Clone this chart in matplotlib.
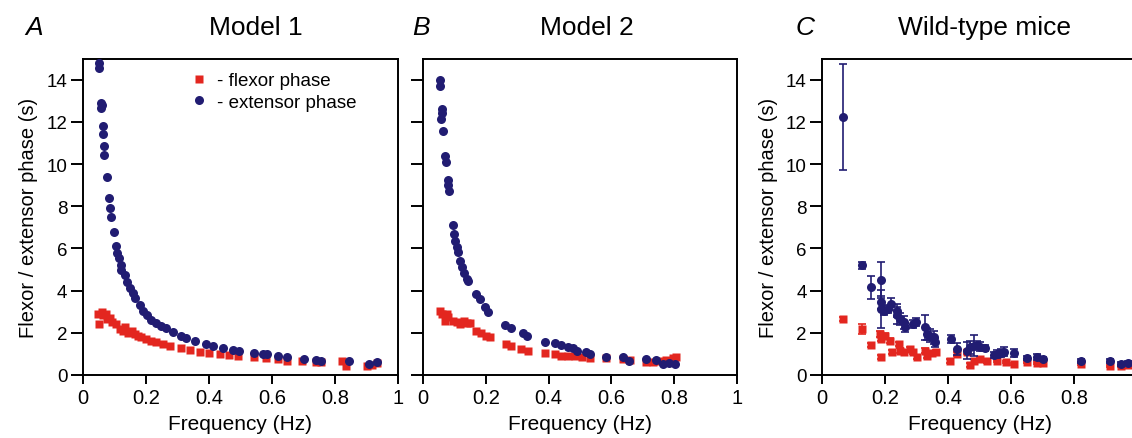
import matplotlib
matplotlib.use("Agg")
import matplotlib.pyplot as plt
import numpy as np

plt.rcParams['font.family'] = ['Liberation Sans', 'DejaVu Sans']

# ---------------- data ----------------
# Panel A (Model 1)
a_ext_f = [0.053, 0.053, 0.058, 0.058, 0.060, 0.063, 0.063, 0.067, 0.068, 0.076, 0.084, 0.087, 0.091,
           0.098, 0.106, 0.109, 0.115, 0.120, 0.123, 0.134, 0.141, 0.149, 0.158, 0.167, 0.181, 0.192,
           0.204, 0.218, 0.234, 0.249, 0.265, 0.286, 0.313, 0.328, 0.355, 0.392, 0.413, 0.444, 0.476,
           0.497, 0.544, 0.571, 0.586, 0.618, 0.649, 0.702, 0.739, 0.755, 0.844, 0.907, 0.934]
a_ext_p = [14.8, 14.55, 12.9, 12.65, 12.8, 11.8, 11.4, 10.85, 10.45, 9.4, 8.4, 7.9, 7.5,
           6.8, 6.1, 5.8, 5.55, 5.2, 5.0, 4.72, 4.40, 4.11, 3.88, 3.64, 3.32, 3.05,
           2.82, 2.63, 2.47, 2.34, 2.22, 2.06, 1.87, 1.77, 1.63, 1.46, 1.39, 1.28, 1.19,
           1.12, 1.03, 1.00, 0.98, 0.89, 0.85, 0.76, 0.73, 0.68, 0.68, 0.52, 0.60]
a_flx_f = [0.049, 0.053, 0.060, 0.065, 0.074, 0.078, 0.086, 0.092, 0.107, 0.118, 0.128, 0.134, 0.144,
           0.155, 0.165, 0.176, 0.186, 0.202, 0.218, 0.234, 0.255, 0.276, 0.313, 0.339, 0.371, 0.402,
           0.434, 0.465, 0.492, 0.544, 0.581, 0.618, 0.649, 0.697, 0.739, 0.755, 0.823, 0.834, 0.902,
           0.918, 0.934]
a_flx_p = [2.90, 2.42, 2.97, 2.82, 2.90, 2.66, 2.69, 2.50, 2.42, 2.18, 2.10, 2.26, 1.99,
           2.10, 1.95, 1.84, 1.79, 1.71, 1.63, 1.55, 1.47, 1.39, 1.28, 1.19, 1.11, 1.04,
           1.00, 0.95, 0.92, 0.84, 0.79, 0.76, 0.68, 0.68, 0.63, 0.60, 0.68, 0.44, 0.41,
           0.47, 0.57]

# Panel B (Model 2)
b_ext_f = [0.053, 0.053, 0.060, 0.060, 0.058, 0.063, 0.071, 0.073, 0.079, 0.079, 0.082, 0.094, 0.099,
           0.103, 0.108, 0.111, 0.119, 0.125, 0.132, 0.140, 0.144, 0.169, 0.182, 0.198, 0.208, 0.261,
           0.279, 0.317, 0.332, 0.388, 0.420, 0.441, 0.462, 0.478, 0.489, 0.519, 0.531, 0.584, 0.637,
           0.656, 0.711, 0.743, 0.764, 0.785, 0.804]
b_ext_p = [14.0, 13.7, 12.6, 12.4, 12.15, 11.55, 10.4, 10.1, 9.25, 9.0, 8.7, 7.09, 6.69,
           6.33, 6.06, 5.85, 5.40, 5.11, 4.84, 4.56, 4.45, 3.84, 3.58, 3.21, 2.97, 2.37,
           2.22, 1.99, 1.87, 1.58, 1.52, 1.42, 1.35, 1.27, 1.16, 1.11, 1.00, 0.84, 0.84,
           0.68, 0.76, 0.73, 0.52, 0.57, 0.52]
b_flx_f = [0.053, 0.060, 0.071, 0.076, 0.079, 0.097, 0.108, 0.119, 0.129, 0.140, 0.150, 0.169, 0.184,
           0.201, 0.212, 0.265, 0.280, 0.311, 0.335, 0.388, 0.420, 0.441, 0.462, 0.484, 0.505, 0.531,
           0.584, 0.637, 0.658, 0.711, 0.732, 0.753, 0.775, 0.796, 0.806]
b_flx_p = [3.05, 2.90, 2.58, 2.90, 2.74, 2.58, 2.50, 2.42, 2.58, 2.47, 2.47, 2.10, 1.99,
           1.87, 1.79, 1.47, 1.39, 1.23, 1.16, 1.03, 1.00, 0.92, 0.92, 0.89, 0.84, 0.79,
           0.79, 0.76, 0.71, 0.63, 0.60, 0.68, 0.73, 0.79, 0.84]

# Panel C (Wild-type mice), mean and error
c_ext_f = [0.067, 0.128, 0.157, 0.187, 0.187, 0.187, 0.197, 0.211, 0.218, 0.237, 0.239, 0.248, 0.259,
           0.264, 0.290, 0.299, 0.328, 0.333, 0.344, 0.354, 0.360, 0.410, 0.429, 0.461, 0.471, 0.482,
           0.493, 0.503, 0.519, 0.546, 0.557, 0.567, 0.578, 0.610, 0.652, 0.684, 0.700, 0.822, 0.913,
           0.950, 0.971]
c_ext_p = [12.23, 5.19, 4.16, 4.52, 3.45, 3.13, 3.05, 3.13, 3.37, 3.05, 2.82, 2.66, 2.50,
           2.26, 2.42, 2.50, 2.26, 1.95, 1.87, 1.79, 1.55, 1.71, 1.23, 1.16, 1.31, 1.39,
           1.42, 1.35, 1.27, 0.95, 1.00, 1.04, 1.11, 1.04, 0.79, 0.84, 0.76, 0.68, 0.68,
           0.52, 0.57]
c_ext_e = [2.53, 0.15, 0.55, 0.85, 0.30, 0.90, 0.20, 0.20, 0.30, 0.30, 0.40, 0.30, 0.30,
           0.20, 0.20, 0.20, 0.60, 0.30, 0.30, 0.30, 0.20, 0.20, 0.30, 0.40, 0.30, 0.50,
           0.20, 0.20, 0.15, 0.15, 0.20, 0.20, 0.20, 0.20, 0.10, 0.15, 0.10, 0.10, 0.10,
           0.10, 0.10]
c_flx_f = [0.067, 0.128, 0.157, 0.184, 0.187, 0.187, 0.200, 0.216, 0.221, 0.243, 0.248, 0.259, 0.280,
           0.290, 0.301, 0.328, 0.333, 0.349, 0.363, 0.407, 0.429, 0.461, 0.470, 0.482, 0.503, 0.524,
           0.556, 0.583, 0.610, 0.652, 0.684, 0.700, 0.822, 0.913, 0.950, 0.971]
c_flx_p = [2.66, 2.18, 1.42, 1.95, 1.71, 0.84, 1.87, 1.63, 1.08, 1.47, 1.16, 1.08, 1.23,
           1.08, 0.84, 1.16, 0.92, 1.04, 1.08, 0.68, 1.00, 1.08, 0.47, 0.68, 0.76, 0.68,
           0.68, 0.60, 0.52, 0.60, 0.57, 0.57, 0.52, 0.44, 0.44, 0.47]
c_flx_e = [0.10, 0.25, 0.10, 0.15, 0.10, 0.10, 0.10, 0.10, 0.10, 0.10, 0.10, 0.10, 0.10,
           0.10, 0.10, 0.10, 0.10, 0.10, 0.10, 0.10, 0.10, 0.10, 0.10, 0.10, 0.10, 0.10,
           0.05, 0.05, 0.05, 0.05, 0.05, 0.05, 0.05, 0.05, 0.05, 0.05]

x_ticks = [0, 0.2, 0.4, 0.6, 0.8, 1]
x_ticklabels = ["0", "0.2", "0.4", "0.6", "0.8", "1"]
y_ticks = [0, 2, 4, 6, 8, 10, 12, 14]

RED = '#e3261f'
BLUE = '#211c72'

W, H = 1132, 439
fig = plt.figure(figsize=(W / 100, H / 100), dpi=100)

def px_axes(x0, x1, ytop, ybot):
    return fig.add_axes([x0 / W, (H - ybot) / H, (x1 - x0) / W, (ybot - ytop) / H])

def style(ax, ylabels=True, last_xlabel=True):
    ax.set_xlim(0, 1)
    ax.set_ylim(0, 15)
    ax.set_xticks(x_ticks)
    labels = list(x_ticklabels)
    if not last_xlabel:
        labels[-1] = ""
    ax.set_xticklabels(labels)
    ax.set_yticks(y_ticks)
    if not ylabels:
        ax.set_yticklabels([])
    for s in ax.spines.values():
        s.set_linewidth(1.4)
    ax.tick_params(axis='x', direction='out', length=6.5, width=1.4, labelsize=14.5, pad=3)
    ax.tick_params(axis='y', direction='out', length=9, width=1.4, labelsize=13.5, pad=2)
    ax.set_xlabel("Frequency (Hz)", fontsize=15, labelpad=5)

ms = 6
axA = px_axes(82.7, 398, 59.5, 376)
axA.plot(a_flx_f, a_flx_p, 's', color=RED, ms=ms, mec='none', label='- flexor phase', zorder=2)
axA.plot(a_ext_f, a_ext_p, 'o', color=BLUE, ms=ms + 0.5, mec='none', label='- extensor phase', zorder=3)
style(axA)
axA.set_ylabel("Flexor / extensor phase (s)", fontsize=14.5, labelpad=6)
axA.legend(loc='upper left', bbox_to_anchor=(0.31, 0.98), frameon=False, fontsize=13.5,
           handletextpad=0.35, labelspacing=0.22, borderaxespad=0, handlelength=1.2)

axB = px_axes(423, 737, 59.5, 376)
axB.plot(b_flx_f, b_flx_p, 's', color=RED, ms=ms, mec='none', zorder=2)
axB.plot(b_ext_f, b_ext_p, 'o', color=BLUE, ms=ms + 0.5, mec='none', zorder=3)
style(axB, ylabels=False)

axC = px_axes(822, 1137, 59.5, 376)
axC.errorbar(c_flx_f, c_flx_p, yerr=c_flx_e, fmt='s', color=RED, ms=ms, mec='none',
             elinewidth=1.2, capsize=3, capthick=1.2, zorder=2)
axC.errorbar(c_ext_f, c_ext_p, yerr=c_ext_e, fmt='o', color=BLUE, ms=ms + 0.5, mec='none',
             elinewidth=1.2, capsize=3, capthick=1.2, zorder=3)
style(axC, last_xlabel=False)
axC.set_ylabel("Flexor / extensor phase (s)", fontsize=14.5, labelpad=6)

# titles and panel letters (baseline placed at ~35 px from top)
for x, letter in [(34, 'A'), (421, 'B'), (805, 'C')]:
    fig.text(x / W, 1 - 35 / H, letter, fontsize=19, style='italic', ha='center', va='baseline')
for x, title in [(256, 'Model 1'), (587, 'Model 2'), (985, 'Wild-type mice')]:
    fig.text(x / W, 1 - 35 / H, title, fontsize=19, ha='center', va='baseline')

fig.savefig('out.png', dpi=100)
